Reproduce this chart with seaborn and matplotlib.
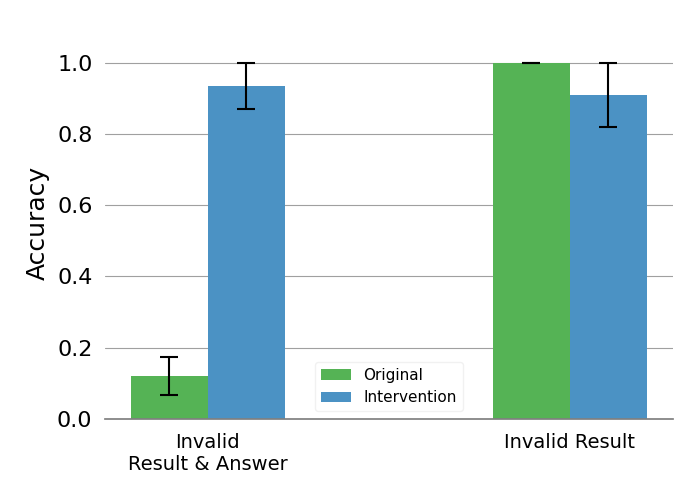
import matplotlib
matplotlib.use("Agg")
import matplotlib.pyplot as plt
import seaborn as sns
import pandas as pd
import numpy as np

categories = ["Invalid\nResult & Answer", "Invalid Result"]
conditions = ["Original", "Intervention"]
original_acc = [0.12, 1.0]
intervention_acc = [0.935, 0.91]
original_err = [0.054, 0.0]
intervention_err = [0.065, 0.09]

colors = ["#55b355", "#4b92c4"]

df = pd.DataFrame({
    "category": categories * 2,
    "condition": [conditions[0]] * 2 + [conditions[1]] * 2,
    "acc": original_acc + intervention_acc,
    "err": original_err + intervention_err,
})

sns.set_theme(style="white")
plt.rcParams["font.family"] = ["DejaVu Sans"]
plt.rcParams["text.color"] = "black"
plt.rcParams["axes.labelcolor"] = "black"
plt.rcParams["xtick.color"] = "black"
plt.rcParams["ytick.color"] = "black"

fig = plt.figure(figsize=(7, 5), dpi=100)
ax = fig.add_axes([0.15, 0.162, 0.811, 0.784])

sns.barplot(data=df, x="category", y="acc", hue="condition", order=categories,
            hue_order=conditions, palette=colors, saturation=1, width=0.425,
            errorbar=None, linewidth=0, ax=ax)

# error bars located at bar centers
for cond, accs, errs, cont in zip(conditions, [original_acc, intervention_acc],
                                  [original_err, intervention_err], ax.containers):
    xs = [p.get_x() + p.get_width() / 2 for p in cont.patches]
    ax.errorbar(xs, accs, yerr=errs, fmt="none", ecolor="black",
                elinewidth=1.5, capsize=6.5, capthick=1.5, zorder=5)

ax.set_ylim(0, 1.1)
ax.set_xlim(-0.284, 1.284)
ax.set_yticks([0.0, 0.2, 0.4, 0.6, 0.8, 1.0])
ax.yaxis.grid(True, color="#a0a0a0", linewidth=0.8)
ax.set_axisbelow(True)
for s in ["left", "right", "top"]:
    ax.spines[s].set_visible(False)
ax.spines["bottom"].set_color("#808080")
ax.tick_params(axis="y", labelsize=16, length=0, pad=9, labelcolor="black")
ax.tick_params(axis="x", labelsize=14, length=0, pad=10, labelcolor="black")
ax.set_xlabel("")
ax.set_ylabel("Accuracy", fontsize=18, color="black", labelpad=5)

leg = ax.legend(loc="lower center", fontsize=11, frameon=True)
leg.get_frame().set_edgecolor("#eeeeee")
for t in leg.get_texts():
    t.set_color("black")

fig.savefig("out.png", dpi=100)
